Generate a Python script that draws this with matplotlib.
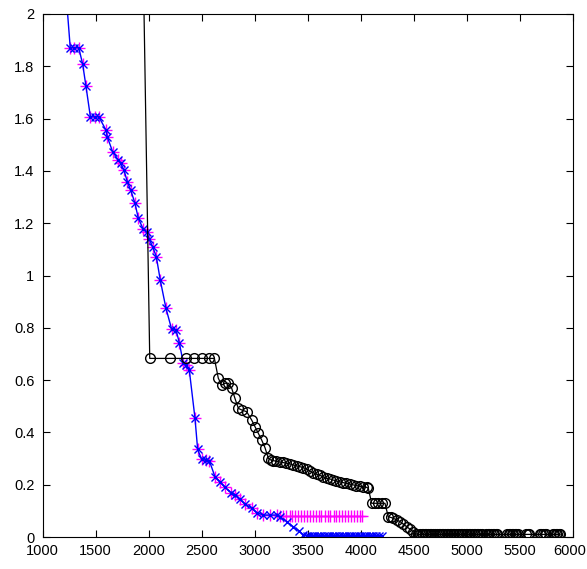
import matplotlib
matplotlib.use("Agg")
import matplotlib.pyplot as plt
import matplotlib.transforms as mtransforms
from matplotlib.ticker import FuncFormatter

# ---- data ----
# magenta '+' series
mag_x = [1220, 1260, 1300, 1340, 1377, 1408, 1450, 1490, 1530, 1597, 1609, 1660, 1713, 1736,
         1767, 1798, 1830, 1871, 1902, 1949, 1981, 2006, 2038, 2072, 2110, 2163, 2217,
         2258, 2289, 2327, 2352, 2383, 2437, 2462, 2500, 2541, 2572, 2625, 2673, 2720,
         2777, 2814, 2861, 2908, 2972, 3019, 3082, 3145, 3208,
         3240, 3270, 3300, 3330, 3355, 3385, 3410, 3440, 3465, 3495, 3520, 3550, 3575,
         3605, 3630, 3660, 3690, 3715, 3745, 3770, 3800, 3825, 3855, 3880, 3910, 3935,
         3965, 3990, 4010]
mag_y = [2.08, 1.871, 1.871, 1.871, 1.809, 1.725, 1.607, 1.607, 1.607, 1.556, 1.531, 1.473,
         1.442, 1.429, 1.403, 1.359, 1.327, 1.276, 1.219, 1.177, 1.168, 1.138, 1.110,
         1.072, 0.981, 0.875, 0.794, 0.792, 0.743, 0.664, 0.658, 0.639, 0.454, 0.335,
         0.297, 0.294, 0.292, 0.231, 0.211, 0.190, 0.170, 0.161, 0.144, 0.126, 0.110,
         0.093, 0.084, 0.084, 0.084,
         0.081, 0.081, 0.081, 0.081, 0.081, 0.081, 0.081, 0.081, 0.081, 0.081, 0.081,
         0.081, 0.081, 0.081, 0.081, 0.081, 0.081, 0.081, 0.081, 0.081, 0.081, 0.081,
         0.081, 0.081, 0.081, 0.081, 0.081, 0.081, 0.081]

# blue 'x' series with line
blue_x = [1220, 1260, 1300, 1340, 1377, 1408, 1450, 1490, 1530, 1597, 1609, 1660, 1713, 1736,
          1767, 1798, 1830, 1871, 1902, 1949, 1981, 2006, 2038, 2072, 2110, 2163, 2217,
          2258, 2289, 2327, 2352, 2383, 2437, 2462, 2500, 2541, 2572, 2625, 2673, 2720,
          2777, 2814, 2861, 2908, 2972, 3019, 3082, 3145, 3208,
          3239, 3302, 3365, 3421, 3459, 3490, 3515, 3540, 3560, 3585, 3610, 3630, 3655,
          3680, 3700, 3725, 3750, 3770, 3795, 3820, 3840, 3865, 3890, 3910, 3935, 3960,
          3980, 4005, 4030, 4050, 4075, 4100, 4120, 4145, 4170, 4198]
blue_y = [2.08, 1.871, 1.871, 1.871, 1.809, 1.725, 1.607, 1.607, 1.607, 1.556, 1.531, 1.473,
          1.442, 1.429, 1.403, 1.359, 1.327, 1.276, 1.219, 1.177, 1.168, 1.138, 1.110,
          1.072, 0.981, 0.875, 0.794, 0.792, 0.743, 0.664, 0.658, 0.639, 0.454, 0.335,
          0.297, 0.294, 0.292, 0.231, 0.211, 0.190, 0.170, 0.161, 0.144, 0.126, 0.110,
          0.093, 0.084, 0.084, 0.084,
          0.078, 0.059, 0.039, 0.023, 0.008, 0.005, 0.005, 0.005, 0.005, 0.005, 0.005,
          0.005, 0.005, 0.005, 0.005, 0.005, 0.005, 0.005, 0.005, 0.005, 0.005, 0.005,
          0.005, 0.005, 0.005, 0.005, 0.005, 0.005, 0.005, 0.005, 0.005, 0.005, 0.005,
          0.005, 0.005, 0.005]

# black 'o' series with line
blk_x = [1940, 2010, 2200, 2350, 2430, 2500, 2570, 2620, 2657, 2689, 2720, 2751, 2783, 2814,
         2846, 2877, 2925, 2972, 3003, 3035, 3066, 3097, 3129, 3150, 3175, 3205, 3235,
         3265, 3300, 3330, 3360, 3395, 3427, 3460, 3490, 3520, 3553, 3585, 3615, 3645,
         3679, 3710, 3740, 3770, 3805, 3835, 3865, 3900, 3930, 3960, 3990, 4025, 4057,
         4072, 4104, 4135, 4166, 4200, 4229, 4260, 4285, 4307, 4340, 4371, 4400, 4434,
         4465, 4496, 4520, 4543,
         4560, 4575, 4590, 4605, 4620, 4635, 4650, 4665, 4680,
         4705, 4720, 4735, 4750, 4765, 4780, 4795, 4810, 4825, 4840,
         4855, 4870, 4885, 4900, 4915, 4930, 4945, 4960, 4975, 4990,
         5005, 5020, 5035, 5050, 5065, 5080, 5095, 5110, 5125, 5140,
         5185, 5200, 5215, 5230, 5245, 5260, 5275, 5290,
         5380, 5395, 5410, 5425, 5440, 5455, 5470, 5485,
         5560, 5575, 5590,
         5690, 5705, 5720, 5735, 5750,
         5810, 5825, 5840, 5855, 5870, 5880]
blk_y = [2.40, 0.683, 0.683, 0.683, 0.683, 0.683, 0.683, 0.683, 0.607, 0.581, 0.588, 0.588,
         0.569, 0.530, 0.492, 0.486, 0.479, 0.447, 0.422, 0.396, 0.371, 0.342, 0.301,
         0.295, 0.292, 0.290, 0.287, 0.285, 0.282, 0.280, 0.276, 0.272, 0.269, 0.265,
         0.260, 0.252, 0.246, 0.240, 0.236, 0.230, 0.224, 0.222, 0.218, 0.214, 0.211,
         0.208, 0.205, 0.202, 0.199, 0.197, 0.194, 0.192, 0.190, 0.186, 0.129, 0.129,
         0.129, 0.129, 0.129, 0.078, 0.075, 0.072, 0.065, 0.059, 0.050, 0.039, 0.030,
         0.020, 0.013, 0.008,
         0.010, 0.010, 0.010, 0.010, 0.010, 0.010, 0.010, 0.010, 0.010,
         0.010, 0.010, 0.010, 0.010, 0.010, 0.010, 0.010, 0.010, 0.010, 0.010,
         0.010, 0.010, 0.010, 0.010, 0.010, 0.010, 0.010, 0.010, 0.010, 0.010,
         0.010, 0.010, 0.010, 0.010, 0.010, 0.010, 0.010, 0.010, 0.010, 0.010,
         0.010, 0.010, 0.010, 0.010, 0.010, 0.010, 0.010, 0.010,
         0.010, 0.010, 0.010, 0.010, 0.010, 0.010, 0.010, 0.010,
         0.010, 0.010, 0.010,
         0.010, 0.010, 0.010, 0.010, 0.010,
         0.010, 0.010, 0.010, 0.010, 0.010, 0.010]

x_ticks = [1000, 1500, 2000, 2500, 3000, 3500, 4000, 4500, 5000, 5500, 6000]
y_ticks = [0, 0.2, 0.4, 0.6, 0.8, 1.0, 1.2, 1.4, 1.6, 1.8, 2.0]

# ---- figure ----
fig = plt.figure(figsize=(5.87, 5.69), dpi=100)
ax = fig.add_axes([0.0727, 0.0562, 0.9029, 0.9192])

ax.plot(mag_x, mag_y, linestyle="none", marker="+", color="#ff00ff",
        markersize=8, markeredgewidth=1.0)
ax.plot(blue_x, blue_y, "-", marker="x", color="#0000ff",
        markersize=5.5, markeredgewidth=1.0, linewidth=1.0)
ax.plot(blk_x, blk_y, "-", marker="o", color="black", markerfacecolor="none",
        markersize=7, markeredgewidth=1.0, linewidth=0.9)

ax.set_xlim(1000, 6000)
ax.set_ylim(0, 2)
ax.set_xticks(x_ticks)
ax.set_yticks(y_ticks)
ax.yaxis.set_major_formatter(FuncFormatter(lambda v, p: ("%g" % round(v, 2))))
ax.tick_params(direction="in", top=True, right=True, length=5, width=0.8,
               labelsize=10.5)
ax.tick_params(axis="x", pad=5)
ax.tick_params(axis="y", pad=6)
for lab in ax.get_xticklabels() + ax.get_yticklabels():
    lab.set_family(["Liberation Sans", "DejaVu Sans"])
for s in ax.spines.values():
    s.set_linewidth(0.8)

# nudge the last x label inward so it stays inside the canvas, as in the reference
last = ax.get_xticklabels()[-1]
shift = mtransforms.ScaledTranslation(-3 / 100, 0, fig.dpi_scale_trans)
for t in ax.xaxis.get_major_ticks()[-1:]:
    t.label1.set_transform(t.label1.get_transform() + shift)

fig.savefig("out.png", dpi=100)
